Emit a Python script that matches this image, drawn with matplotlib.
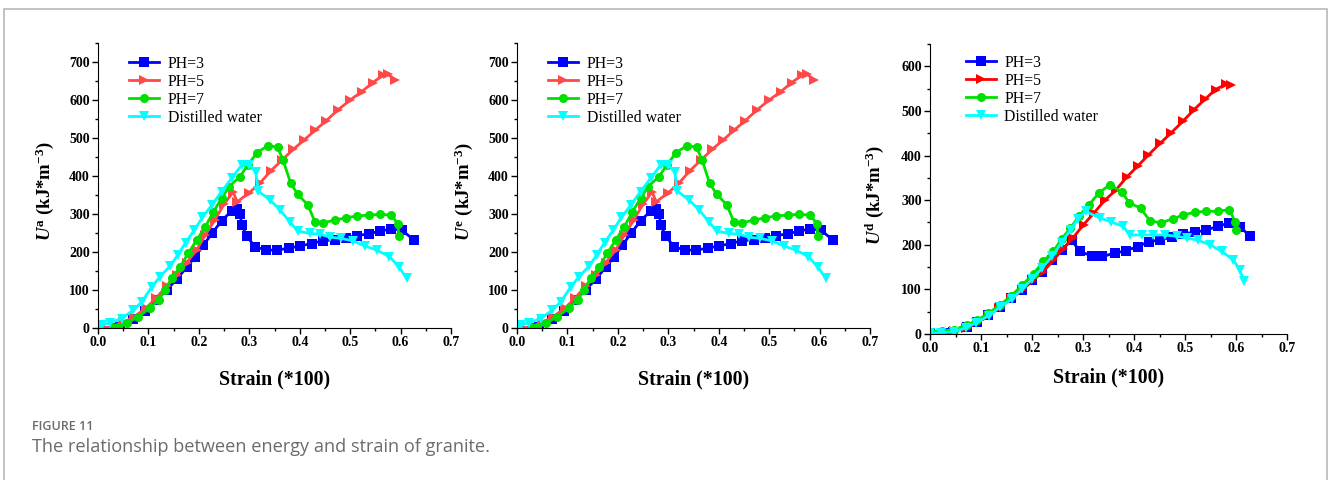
import matplotlib
matplotlib.use("Agg")
import matplotlib.pyplot as plt
from matplotlib.patches import Rectangle
from matplotlib.ticker import MultipleLocator

plt.rcParams["font.family"] = "Liberation Serif"
plt.rcParams["mathtext.fontset"] = "custom"
plt.rcParams["mathtext.rm"] = "Liberation Serif:bold"
plt.rcParams["mathtext.it"] = "Liberation Serif:italic:bold"
plt.rcParams["mathtext.bf"] = "Liberation Serif:bold"

# ---- energy U^a / U^e vs strain (same curves in both panels) ----
ph3_x = [0.035, 0.044, 0.07, 0.093, 0.116, 0.136, 0.156, 0.176, 0.193, 0.209,
         0.226, 0.245, 0.265, 0.275, 0.282, 0.285, 0.295, 0.311, 0.333, 0.355,
         0.378, 0.40, 0.424, 0.446, 0.469, 0.492, 0.514, 0.537, 0.559, 0.582,
         0.603, 0.627]
ph3_y = [0, 3, 25, 45, 74, 100, 128, 160, 188, 218,
         249, 282, 308, 313, 300, 271, 242, 214, 205, 205,
         210, 216, 222, 230, 232, 238, 243, 248, 255, 261,
         257, 231]

ph5_x = [0.0, 0.014, 0.032, 0.05, 0.072, 0.095, 0.116, 0.136, 0.156, 0.176,
         0.196, 0.213, 0.232, 0.25, 0.268, 0.276, 0.30, 0.321, 0.343, 0.365,
         0.387, 0.409, 0.431, 0.453, 0.476, 0.50, 0.523, 0.545, 0.566, 0.575,
         0.589]
ph5_y = [0, 0, 5, 15, 30, 52, 80, 110, 140, 172,
         206, 245, 285, 326, 358, 332, 356, 381, 414, 442,
         470, 495, 521, 546, 574, 600, 622, 646, 666, 668,
         653]

ph7_x = [0.03, 0.04, 0.057, 0.08, 0.103, 0.12, 0.133, 0.146, 0.163, 0.179,
         0.196, 0.213, 0.229, 0.245, 0.26, 0.281, 0.298, 0.315, 0.337, 0.356,
         0.367, 0.382, 0.396, 0.416, 0.43, 0.447, 0.47, 0.492, 0.514, 0.537,
         0.559, 0.582, 0.594, 0.597]
ph7_y = [0, 3, 12, 30, 52, 74, 100, 131, 161, 197,
         232, 267, 306, 341, 372, 398, 430, 461, 480, 476,
         442, 381, 352, 324, 280, 277, 284, 290, 295, 297,
         299, 297, 275, 243]

dw_x = [0.0, 0.007, 0.024, 0.047, 0.07, 0.087, 0.107, 0.123, 0.143, 0.158,
        0.174, 0.191, 0.207, 0.226, 0.245, 0.265, 0.285, 0.30, 0.313, 0.318,
        0.341, 0.361, 0.38, 0.396, 0.42, 0.44, 0.46, 0.482, 0.506, 0.529,
        0.553, 0.578, 0.597, 0.612]
dw_y = [0, 8, 14, 25, 47, 69, 109, 135, 163, 192,
        225, 258, 291, 324, 359, 394, 429, 430, 410, 360,
        337, 311, 280, 255, 249, 247, 239, 236, 229, 216,
        205, 188, 160, 131]

# ---- dissipated energy U^d vs strain ----
d_ph3_x = [0.0, 0.025, 0.046, 0.072, 0.092, 0.114, 0.137, 0.159, 0.18, 0.2,
           0.22, 0.24, 0.258, 0.278, 0.294, 0.317, 0.338, 0.362, 0.385, 0.407,
           0.43, 0.451, 0.474, 0.497, 0.52, 0.541, 0.564, 0.587, 0.608, 0.627]
d_ph3_y = [3, 3, 5, 16, 28, 43, 61, 80, 99, 120,
           140, 166, 189, 210, 185, 175, 174, 181, 187, 196,
           207, 211, 217, 225, 228, 233, 241, 249, 240, 220]

d_ph5_x = [0.0, 0.025, 0.048, 0.07, 0.092, 0.114, 0.136, 0.158, 0.18, 0.2,
           0.222, 0.242, 0.26, 0.28, 0.301, 0.322, 0.343, 0.364, 0.386, 0.407,
           0.428, 0.451, 0.473, 0.496, 0.517, 0.539, 0.56, 0.58, 0.59]
d_ph5_y = [2, 3, 6, 14, 26, 41, 59, 78, 98, 118,
           140, 165, 190, 215, 245, 272, 300, 322, 352, 376,
           401, 427, 451, 477, 502, 526, 548, 560, 558]

d_ph7_x = [0.0, 0.023, 0.048, 0.072, 0.093, 0.114, 0.137, 0.159, 0.181, 0.203,
           0.222, 0.242, 0.258, 0.275, 0.292, 0.312, 0.331, 0.353, 0.376, 0.391,
           0.413, 0.431, 0.452, 0.476, 0.497, 0.52, 0.542, 0.565, 0.587, 0.598,
           0.6]
d_ph7_y = [5, 7, 10, 20, 31, 46, 65, 85, 110, 135,
           163, 185, 213, 237, 264, 290, 316, 335, 318, 294,
           282, 254, 249, 258, 267, 273, 275, 275, 279, 252,
           234]

d_dw_x = [0.0, 0.022, 0.048, 0.07, 0.09, 0.115, 0.137, 0.16, 0.18, 0.2,
          0.22, 0.24, 0.258, 0.276, 0.29, 0.305, 0.333, 0.354, 0.379, 0.392,
          0.415, 0.438, 0.461, 0.484, 0.503, 0.526, 0.549, 0.572, 0.595, 0.607,
          0.616]
d_dw_y = [2, 3, 5, 14, 25, 41, 60, 78, 100, 123,
          148, 175, 205, 234, 258, 275, 260, 252, 241, 222,
          222, 222, 222, 219, 215, 210, 200, 185, 166, 144,
          118]

labels = ["PH=3", "PH=5", "PH=7", "Distilled water"]
markers = ["s", ">", "o", "v"]

W, H = 1328, 480
fig = plt.figure(figsize=(W / 100, H / 100), dpi=100)
fig.patch.set_facecolor("white")

# light grey frame around the figure block
fig.patches.append(Rectangle((4 / W, -0.1), (1327 - 4) / W, (H - 9) / H + 0.1,
                             transform=fig.transFigure, fill=False,
                             edgecolor="#b8b8b8", lw=1.2))


def panel(rect, series, colors, ylab, ymax, ylab_x, xlab_y, leg_x, leg_y):
    ax = fig.add_axes(rect)
    for (x, y), c, m, lab in zip(series, colors, markers, labels):
        ax.plot(x, y, color=c, marker=m, ms=6.5, mew=0, lw=2.0, label=lab)
    ax.set_xlim(0, 0.7)
    ax.set_ylim(0, ymax)
    ax.xaxis.set_major_locator(MultipleLocator(0.1))
    ax.xaxis.set_minor_locator(MultipleLocator(0.05))
    ax.yaxis.set_major_locator(MultipleLocator(100))
    ax.yaxis.set_minor_locator(MultipleLocator(50))
    ax.spines["top"].set_visible(False)
    ax.spines["right"].set_visible(False)
    ax.set_xticks([0.0, 0.1, 0.2, 0.3, 0.4, 0.5, 0.6, 0.7])
    ax.set_xticklabels(["0.0", "0.1", "0.2", "0.3", "0.4", "0.5", "0.6", "0.7"])
    ax.tick_params(which="major", direction="out", length=4, width=1, labelsize=10, pad=2)
    ax.tick_params(which="minor", direction="out", length=2, width=1)
    for t in ax.get_xticklabels() + ax.get_yticklabels():
        t.set_fontweight("bold")
    ax.set_xlabel("Strain (*100)", fontsize=14.3, fontweight="bold")
    ax.xaxis.set_label_coords(0.5, xlab_y)
    ax.set_ylabel(ylab, fontsize=13.5, fontweight="bold")
    ax.yaxis.set_label_coords(ylab_x, 0.48)
    ax.legend(loc="upper left", bbox_to_anchor=(leg_x, leg_y), frameon=False,
              fontsize=11.4, handlelength=1.9, handletextpad=0.55,
              labelspacing=0.12, borderpad=0, borderaxespad=0)
    return ax


ae_series = [(ph3_x, ph3_y), (ph5_x, ph5_y), (ph7_x, ph7_y), (dw_x, dw_y)]
d_series = [(d_ph3_x, d_ph3_y), (d_ph5_x, d_ph5_y), (d_ph7_x, d_ph7_y), (d_dw_x, d_dw_y)]
ae_colors = ["#0000ff", "#ff4848", "#00e000", "#00ffff"]
d_colors = ["#0000ff", "#ff0000", "#00e000", "#00ffff"]

panel([98 / W, 1 - 328 / H, 353 / W, 285 / H], ae_series, ae_colors,
      r"$U^{\rm a}$ (kJ*m$^{-3}$)", 750, -0.118, -0.146, 0.088, 0.955)
panel([517 / W, 1 - 328 / H, 353 / W, 285 / H], ae_series, ae_colors,
      r"$U^{\rm e}$ (kJ*m$^{-3}$)", 750, -0.118, -0.146, 0.088, 0.955)
panel([930 / W, 1 - 334 / H, 357 / W, 290 / H], d_series, d_colors,
      r"$U^{\rm d}$ (kJ*m$^{-3}$)", 650, -0.122, -0.114, 0.1, 0.962)

fig.text(32 / W, 1 - 427 / H, "FIGURE 11", fontsize=9, color="#6b6b6b",
         family="Open Sans", fontweight="semibold", va="center")
fig.text(32 / W, 1 - 447 / H, "The relationship between energy and strain of granite.",
         fontsize=13.1, color="#6b6b6b", family="Open Sans", va="center")

fig.savefig("out.png", dpi=100)
